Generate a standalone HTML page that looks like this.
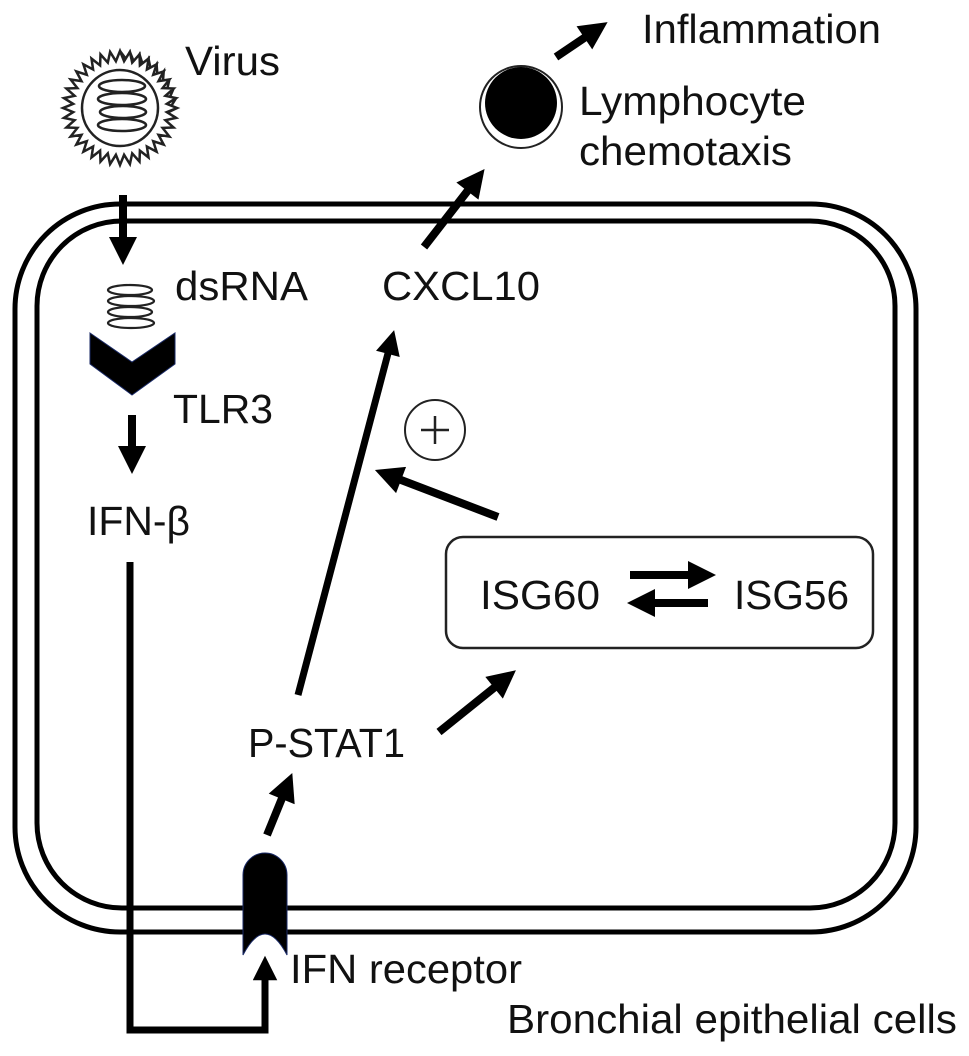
<!DOCTYPE html>
<html><head><meta charset="utf-8"><style>
html,body{margin:0;padding:0;background:#fff}
svg{display:block}
text{font-family:"Liberation Sans",Arial,sans-serif;font-size:41px;fill:#111}
</style></head><body>
<svg width="969" height="1056" viewBox="0 0 969 1056" xmlns="http://www.w3.org/2000/svg">
<defs>
<marker id="ah" viewBox="0 0 10 10" refX="5" refY="5" markerWidth="3.7" markerHeight="3.5" orient="auto" markerUnits="strokeWidth">
<path d="M0,0 L10,5 L0,10 z" fill="#000"/>
</marker>
</defs>
<!-- cell membranes -->
<rect x="15" y="204" width="901" height="728" rx="105" ry="105" fill="none" stroke="#000" stroke-width="5"/>
<rect x="37" y="221" width="858" height="687" rx="85" ry="85" fill="none" stroke="#000" stroke-width="5"/>

<!-- virus -->
<g transform="translate(120,108)">
<polygon fill="#fff" stroke="#222" stroke-width="2.5" points="
0,-57 4.9,-46.7 9.9,-56.1 14.5,-44.7 19.5,-53.6 23.6,-40.9 28.5,-49.4 31.4,-35.4 36.6,-43.7 37.7,-28.6 43.7,-36.6 42.5,-20.7 49.4,-28.5 45.7,-12.3 53.6,-19.5 47.3,-4.9 56.1,-9.9 47,4.9 57,0 47,4.9 56.1,9.9 46.7,4.9"/>
</g>
<g transform="translate(120,108)" fill="none" stroke="#222" stroke-width="2.5">
<path id="spk" d=""/>
</g>
<g transform="translate(120,108)">
<polygon fill="#fff" stroke="#222" stroke-width="2.5" points="0.0,-57.0 4.1,-46.8 9.9,-56.1 12.2,-45.4 19.5,-53.6 19.9,-42.6 28.5,-49.4 26.9,-38.5 36.6,-43.7 33.2,-33.2 43.7,-36.6 38.5,-26.9 49.4,-28.5 42.6,-19.9 53.6,-19.5 45.4,-12.2 56.1,-9.9 46.8,-4.1 57.0,0.0 46.8,4.1 56.1,9.9 45.4,12.2 53.6,19.5 42.6,19.9 49.4,28.5 38.5,26.9 43.7,36.6 33.2,33.2 36.6,43.7 26.9,38.5 28.5,49.4 19.9,42.6 19.5,53.6 12.2,45.4 9.9,56.1 4.1,46.8 0.0,57.0 -4.1,46.8 -9.9,56.1 -12.2,45.4 -19.5,53.6 -19.9,42.6 -28.5,49.4 -26.9,38.5 -36.6,43.7 -33.2,33.2 -43.7,36.6 -38.5,26.9 -49.4,28.5 -42.6,19.9 -53.6,19.5 -45.4,12.2 -56.1,9.9 -46.8,4.1 -57.0,0.0 -46.8,-4.1 -56.1,-9.9 -45.4,-12.2 -53.6,-19.5 -42.6,-19.9 -49.4,-28.5 -38.5,-26.9 -43.7,-36.6 -33.2,-33.2 -36.6,-43.7 -26.9,-38.5 -28.5,-49.4 -19.9,-42.6 -19.5,-53.6 -12.2,-45.4 -9.9,-56.1 -4.1,-46.8"/>
<circle r="38" fill="#fff" stroke="#222" stroke-width="2.5"/>
<g fill="none" stroke="#222" stroke-width="2.5">
<ellipse cx="2" cy="-22" rx="23" ry="6"/>
<ellipse cx="2" cy="-9" rx="24" ry="6"/>
<ellipse cx="3" cy="4" rx="23" ry="6"/>
<ellipse cx="2" cy="17" rx="24" ry="6"/>
</g>
</g>
<text x="185" y="75" textLength="95" lengthAdjust="spacingAndGlyphs">Virus</text>

<!-- virus -> dsRNA -->
<line x1="123" y1="195" x2="123" y2="251" stroke="#000" stroke-width="8" marker-end="url(#ah)"/>

<!-- dsRNA coil -->
<g fill="none" stroke="#222" stroke-width="2.2">
<ellipse cx="130" cy="290" rx="22" ry="5"/>
<ellipse cx="131" cy="301" rx="23" ry="5"/>
<ellipse cx="130" cy="312" rx="22" ry="5"/>
<ellipse cx="131" cy="323" rx="23" ry="5"/>
</g>
<text x="175" y="300" textLength="133" lengthAdjust="spacingAndGlyphs">dsRNA</text>

<!-- TLR3 chevron -->
<polygon points="90,333 132,362 175,333 175,364 132,395 90,364" fill="#000" stroke="#1a2a66" stroke-width="1"/>
<text x="173" y="423" textLength="100" lengthAdjust="spacingAndGlyphs">TLR3</text>

<line x1="132" y1="415" x2="132" y2="460" stroke="#000" stroke-width="8" marker-end="url(#ah)"/>
<text x="87" y="535" textLength="103" lengthAdjust="spacingAndGlyphs">IFN-β</text>

<!-- IFN path -->
<path d="M130,562 L130,1030 L265,1030 L265,968" fill="none" stroke="#000" stroke-width="7" marker-end="url(#ah)"/>

<!-- receptor -->
<path d="M243,875 A22,22 0 0 1 287,875 L287,955 Q276,934 265,934 Q254,934 243,955 Z" fill="#000" stroke="#1a2a66" stroke-width="1"/>
<text x="290" y="983" textLength="232" lengthAdjust="spacingAndGlyphs">IFN receptor</text>
<text x="507" y="1033" textLength="450" lengthAdjust="spacingAndGlyphs">Bronchial epithelial cells</text>

<!-- receptor -> P-STAT1 -->
<line x1="267" y1="835" x2="287" y2="786" stroke="#000" stroke-width="8" marker-end="url(#ah)"/>
<text x="248" y="757" textLength="157" lengthAdjust="spacingAndGlyphs">P-STAT1</text>

<!-- P-STAT1 -> CXCL10 -->
<line x1="298" y1="695" x2="391" y2="342" stroke="#000" stroke-width="7" marker-end="url(#ah)"/>
<text x="382" y="300" textLength="158" lengthAdjust="spacingAndGlyphs">CXCL10</text>

<!-- CXCL10 -> lymphocyte -->
<line x1="424" y1="247" x2="476" y2="180" stroke="#000" stroke-width="8" marker-end="url(#ah)"/>

<!-- lymphocyte -->
<circle cx="521" cy="107" r="41" fill="#fff" stroke="#222" stroke-width="2"/>
<circle cx="521" cy="103" r="36" fill="#000"/>
<text x="579" y="115" textLength="227" lengthAdjust="spacingAndGlyphs">Lymphocyte</text>
<text x="579" y="165" textLength="213" lengthAdjust="spacingAndGlyphs">chemotaxis</text>

<line x1="556" y1="57" x2="596" y2="30" stroke="#000" stroke-width="8" marker-end="url(#ah)"/>
<text x="642" y="43" textLength="239" lengthAdjust="spacingAndGlyphs">Inflammation</text>

<!-- plus -->
<circle cx="435" cy="430" r="30" fill="#fff" stroke="#222" stroke-width="2"/>
<line x1="421" y1="430" x2="449" y2="430" stroke="#222" stroke-width="2.5"/>
<line x1="435" y1="416" x2="435" y2="444" stroke="#222" stroke-width="2.5"/>

<!-- ISG -> plus arrow -->
<line x1="498" y1="517" x2="388" y2="475" stroke="#000" stroke-width="8" marker-end="url(#ah)"/>

<!-- ISG box -->
<rect x="446" y="537" width="427" height="111" rx="17" ry="17" fill="none" stroke="#222" stroke-width="2.5"/>
<text x="480" y="609" textLength="120" lengthAdjust="spacingAndGlyphs">ISG60</text>
<text x="734" y="609" textLength="115" lengthAdjust="spacingAndGlyphs">ISG56</text>
<line x1="630" y1="575" x2="702" y2="575" stroke="#000" stroke-width="8" marker-end="url(#ah)"/>
<line x1="708" y1="603" x2="641" y2="603" stroke="#000" stroke-width="8" marker-end="url(#ah)"/>

<!-- P-STAT1 -> ISG -->
<line x1="439" y1="732" x2="505" y2="679" stroke="#000" stroke-width="8" marker-end="url(#ah)"/>
</svg>
</body></html>
